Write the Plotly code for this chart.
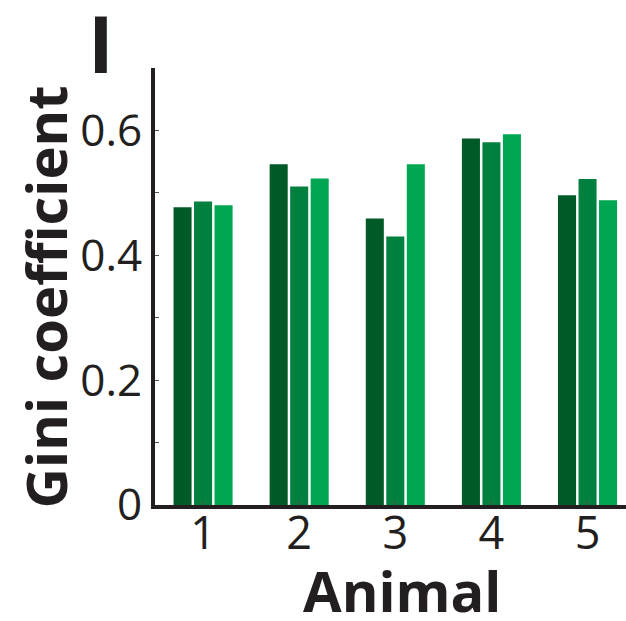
import plotly.graph_objects as go

animals = [1, 2, 3, 4, 5]
series_names = ["Condition 1", "Condition 2", "Condition 3"]
gini_dark = [0.477, 0.546, 0.459, 0.587, 0.496]
gini_mid = [0.486, 0.510, 0.430, 0.581, 0.522]
gini_light = [0.480, 0.523, 0.546, 0.594, 0.488]
colors = ["#005A28", "#00803E", "#00A651"]

ytick_vals = [0, 0.1, 0.2, 0.3, 0.4, 0.5, 0.6]
ytick_text = ["0", "", "0.2", "", "0.4", "", "0.6"]

FONT = "Open Sans"
INK = "#231F20"

# plot area in pixels: x 155..626, y 68..505
PL, PW, PB, PH = 155, 471, 505, 437


def px(xp):
    return (xp - PL) / PW


def py(yp):
    return (PB - yp) / PH


fig = go.Figure()
for name, vals, col in zip(series_names, [gini_dark, gini_mid, gini_light], colors):
    fig.add_trace(go.Bar(x=animals, y=vals, name=name, marker=dict(color=col, line=dict(width=0))))

fig.update_layout(
    width=626, height=621,
    margin=dict(l=155, r=0, t=68, b=116),
    paper_bgcolor="white", plot_bgcolor="white",
    barmode="group", bargap=0.36, bargroupgap=0.12,
    showlegend=False,
    font=dict(family=FONT, color=INK),
    xaxis=dict(
        range=[0.5, 5.4], tickvals=animals, ticktext=[str(a) for a in animals],
        showgrid=False, zeroline=False,
        showline=True, linecolor=INK, linewidth=4,
        ticks="inside", ticklen=4, tickwidth=1, tickcolor="#555",
        tickfont=dict(size=45, family=FONT, color=INK),
        ticklabelstandoff=-14,
    ),
    yaxis=dict(
        range=[0, 0.7], tickvals=ytick_vals, ticktext=ytick_text,
        showgrid=False, zeroline=False,
        showline=True, linecolor=INK, linewidth=4,
        ticks="inside", ticklen=4, tickwidth=1, tickcolor="#555",
        tickfont=dict(size=44, family=FONT, color=INK),
    ),
)

fig.add_annotation(
    text="<b>Animal</b>", xref="paper", yref="paper",
    x=px(401.5), y=py(590), xanchor="center", yanchor="middle", showarrow=False,
    font=dict(size=56, family=FONT, color=INK),
)
fig.add_annotation(
    text="<b>Gini coefficient</b>", xref="paper", yref="paper", textangle=-90,
    x=px(44), y=py(297.5), xanchor="center", yanchor="middle", showarrow=False,
    font=dict(size=56, family=FONT, color=INK),
)
fig.add_annotation(
    text="<b>I</b>", xref="paper", yref="paper",
    x=px(100.5), y=py(43), xanchor="center", yanchor="middle", showarrow=False,
    font=dict(size=78, family=FONT, color=INK),
)

fig.write_html("out.html")
